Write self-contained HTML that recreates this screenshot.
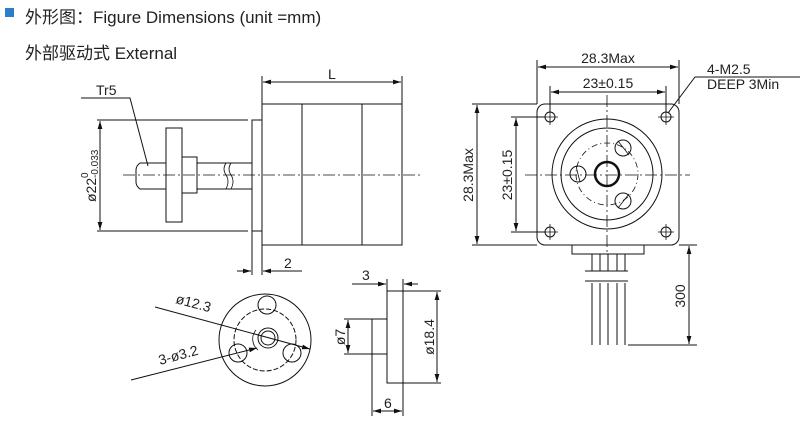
<!DOCTYPE html>
<html><head><meta charset="utf-8"><style>
html,body{margin:0;padding:0;background:#fff;}
svg{display:block;}
text{font-family:"Liberation Sans","Noto Sans CJK SC",sans-serif;fill:#222;}
</style></head><body>
<svg width="800" height="424" viewBox="0 0 800 424" xmlns="http://www.w3.org/2000/svg">
<defs>
<marker id="a" viewBox="0 0 10 6" refX="10" refY="3" markerWidth="8" markerHeight="5" orient="auto-start-reverse" markerUnits="userSpaceOnUse"><path d="M0,0 L10,3 L0,6 z" fill="#111"/></marker>
</defs>
<rect x="5" y="8" width="9" height="9" fill="#2a7fc8"/>
<text x="25" y="23" font-size="17" fill="#333">外形图：Figure Dimensions (unit =mm)</text>
<text x="25" y="59" font-size="17" fill="#333">外部驱动式  External</text>

<g stroke="#111" stroke-width="1" fill="none">
<rect x="262" y="104" width="140" height="141"/>
<line x1="302" y1="104" x2="302" y2="245"/>
<line x1="362" y1="104" x2="362" y2="245"/>
<rect x="252" y="120" width="10" height="111"/>
<line x1="262" y1="104" x2="262" y2="76"/>
<line x1="402" y1="104" x2="402" y2="76"/>
<line x1="263" y1="82" x2="401" y2="82" marker-start="url(#a)" marker-end="url(#a)"/>
<path d="M252,163 L197,163 M252,189 L197,189"/>
<path d="M166,163 L140,163 Q136,166 136,170 L136,182 Q136,186 140,189 L166,189"/>
<rect x="166" y="128" width="16" height="94"/>
<rect x="182" y="157" width="15" height="36"/>
<path d="M226,163 q-4,6 0,12 q4,6 0,14 M231,163 q-4,6 0,12 q4,6 0,14" stroke-width="0.8"/>
<line x1="123" y1="175" x2="420" y2="175" stroke-dasharray="12,3,2,3" stroke-width="0.8"/>
<line x1="97" y1="120" x2="248" y2="120"/>
<line x1="97" y1="231" x2="248" y2="231"/>
<line x1="100" y1="121" x2="100" y2="230" marker-start="url(#a)" marker-end="url(#a)"/>
<path d="M81,98 L130,98 L148,166"/>
<line x1="252" y1="231" x2="252" y2="275"/>
<line x1="262" y1="245" x2="262" y2="275"/>
<line x1="237" y1="271" x2="251" y2="271" marker-end="url(#a)"/>
<line x1="302" y1="271" x2="263" y2="271" marker-end="url(#a)"/>

<rect x="537" y="104" width="142" height="141" rx="8"/>
<g>
<circle cx="550" cy="117" r="5"/><circle cx="666" cy="117" r="5"/>
<circle cx="550" cy="232" r="5"/><circle cx="666" cy="232" r="5"/>
<path d="M542,117h16M550,109v16M658,117h16M666,109v16M542,232h16M550,224v16M658,232h16M666,224v16" stroke-width="0.8"/>
</g>
<circle cx="607" cy="174" r="55"/>
<circle cx="607" cy="174" r="46"/>
<circle cx="607" cy="174" r="31" stroke-dasharray="6,3,1,3" stroke-width="0.8"/>
<circle cx="607" cy="174" r="12" stroke-width="2.5"/>
<circle cx="578" cy="174" r="8"/>
<circle cx="623" cy="148" r="8"/>
<circle cx="623" cy="201" r="8"/>
<path d="M618,141 L629,155 M618,208 L629,194 M576,166 L580,182" stroke-width="0.8"/>
<line x1="525" y1="175" x2="690" y2="175" stroke-dasharray="12,3,2,3" stroke-width="0.8"/>
<line x1="607" y1="95" x2="607" y2="252" stroke-dasharray="12,3,2,3" stroke-width="0.8"/>
<line x1="537" y1="104" x2="537" y2="60"/>
<line x1="679" y1="104" x2="679" y2="60"/>
<line x1="538" y1="67" x2="678" y2="67" marker-start="url(#a)" marker-end="url(#a)"/>
<line x1="550" y1="112" x2="550" y2="86"/>
<line x1="666" y1="112" x2="666" y2="86"/>
<line x1="551" y1="92" x2="665" y2="92" marker-start="url(#a)" marker-end="url(#a)"/>
<line x1="472" y1="104" x2="537" y2="104"/>
<line x1="472" y1="245" x2="537" y2="245"/>
<line x1="477" y1="105" x2="477" y2="244" marker-start="url(#a)" marker-end="url(#a)"/>
<line x1="511" y1="117" x2="545" y2="117"/>
<line x1="511" y1="232" x2="545" y2="232"/>
<line x1="516" y1="118" x2="516" y2="231" marker-start="url(#a)" marker-end="url(#a)"/>
<path d="M800,77 L695,77 L668,113" />
<rect x="572" y="245" width="72" height="9"/>
<path d="M592,254v17M600,254v17M608,254v17M617,254v17M625,254v17"/>
<path d="M585,271h43M585,281h43"/>
<path d="M592,283v62M600,283v62M608,283v62M617,283v62M625,283v62"/>
<path d="M679,245h18M628,345h69"/>
<line x1="689" y1="246" x2="689" y2="344" marker-start="url(#a)" marker-end="url(#a)"/>

<circle cx="265" cy="340" r="46"/>
<circle cx="265" cy="340" r="31" stroke-dasharray="5,2"/>
<circle cx="267" cy="305" r="9"/>
<circle cx="238" cy="353" r="9"/>
<circle cx="292" cy="353" r="9"/>
<circle cx="268" cy="338" r="10"/>
<circle cx="268" cy="338" r="7"/>
<path d="M256,330 a14,14 0 0 0 2,20" stroke-width="0.8"/>
<line x1="155" y1="307" x2="310" y2="349" marker-end="url(#a)"/>
<line x1="131" y1="380" x2="257" y2="348" marker-end="url(#a)"/>

<rect x="387" y="291" width="16" height="92"/>
<rect x="372" y="319" width="15" height="35"/>
<path d="M344,319h28M344,354h28"/>
<line x1="348" y1="320" x2="348" y2="353" marker-start="url(#a)" marker-end="url(#a)"/>
<path d="M403,291h38M403,383h38"/>
<line x1="437" y1="292" x2="437" y2="382" marker-start="url(#a)" marker-end="url(#a)"/>
<path d="M387,291v-12M403,291v-12"/>
<line x1="352" y1="284" x2="386" y2="284" marker-end="url(#a)"/>
<line x1="418" y1="284" x2="404" y2="284" marker-end="url(#a)"/>
<path d="M372,354v62M403,383v33"/>
<line x1="373" y1="411" x2="402" y2="411" marker-start="url(#a)" marker-end="url(#a)"/>
</g>

<g font-size="14">
<text x="328" y="79">L</text>
<text x="96" y="95">Tr5</text>
<text x="284" y="268">2</text>
<text transform="translate(96,202) rotate(-90)">ø22</text>
<text transform="translate(88,178) rotate(-90)" font-size="10">0</text>
<text transform="translate(98,178) rotate(-90)" font-size="10">-0.033</text>
<text x="608" y="63" text-anchor="middle">28.3Max</text>
<text x="608" y="88" text-anchor="middle">23±0.15</text>
<text transform="translate(473,175) rotate(-90)" text-anchor="middle">28.3Max</text>
<text transform="translate(512,175) rotate(-90)" text-anchor="middle">23±0.15</text>
<text x="707" y="74">4-M2.5</text>
<text x="707" y="89">DEEP 3Min</text>
<text transform="translate(685,296) rotate(-90)" text-anchor="middle">300</text>
<text transform="translate(175,303) rotate(15)">ø12.3</text>
<text transform="translate(160,365) rotate(-15)">3-ø3.2</text>
<text x="362" y="280">3</text>
<text transform="translate(345,337) rotate(-90)" text-anchor="middle">ø7</text>
<text transform="translate(434,337) rotate(-90)" text-anchor="middle">ø18.4</text>
<text x="384" y="408">6</text>
</g>
</svg>
</body></html>
